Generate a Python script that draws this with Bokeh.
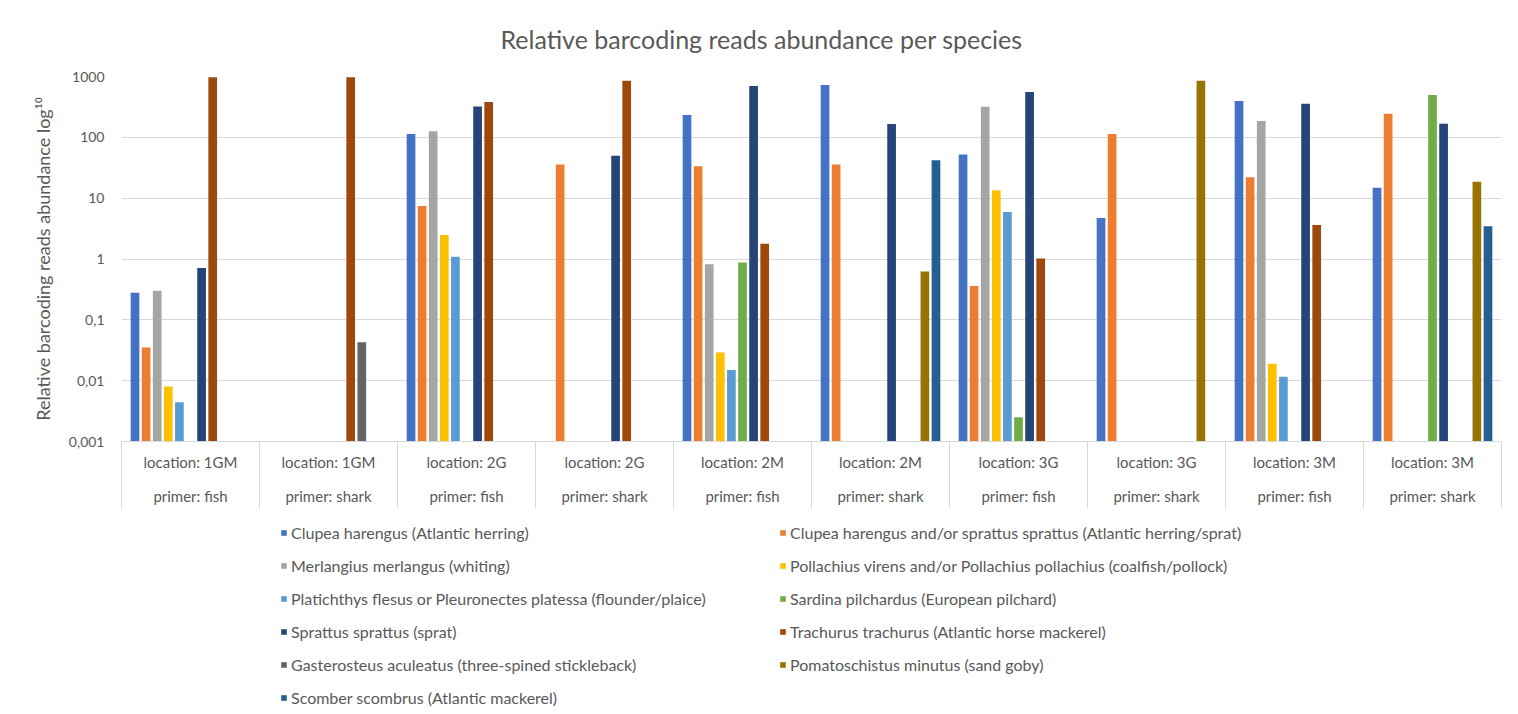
import numpy as np
from bokeh.plotting import figure
from bokeh.layouts import column
from bokeh.models import ColumnDataSource, Range1d, FixedTicker, Legend, LegendItem
from bokeh.transform import dodge
from bokeh.embed import file_html
from bokeh.resources import INLINE

# ---------------- data ----------------
LOCATIONS = ["1GM", "1GM", "2G", "2G", "2M", "2M", "3G", "3G", "3M", "3M"]
PRIMERS = ["fish", "shark", "fish", "shark", "fish", "shark", "fish", "shark", "fish", "shark"]

SPECIES = [
    "Clupea harengus (Atlantic herring)",
    "Clupea harengus and/or sprattus sprattus (Atlantic herring/sprat)",
    "Merlangius merlangus (whiting)",
    "Pollachius virens and/or Pollachius pollachius (coalfish/pollock)",
    "Platichthys flesus or Pleuronectes platessa (flounder/plaice)",
    "Sardina pilchardus (European pilchard)",
    "Sprattus sprattus (sprat)",
    "Trachurus trachurus (Atlantic horse mackerel)",
    "Gasterosteus aculeatus (three-spined stickleback)",
    "Pomatoschistus minutus (sand goby)",
    "Scomber scombrus (Atlantic mackerel)",
]

CLUPEA = [0.28, None, 113, None, 232, 724, 52, 4.7, 395, 14.9]
CLUPEA_SPRAT = [0.035, None, 7.4, 35.6, 33.5, 35.6, 0.36, 113, 22.1, 244]
MERLANGIUS = [0.30, None, 126, None, 0.82, None, 318, None, 185, None]
POLLACHIUS = [0.008, None, 2.48, None, 0.029, None, 13.5, None, 0.019, None]
PLATICHTHYS = [0.0044, None, 1.09, None, 0.015, None, 5.9, None, 0.0116, None]
SARDINA = [None, None, None, None, 0.88, None, 0.0025, None, None, 495]
SPRATTUS = [0.71, None, 322, 49.6, 697, 165, 555, None, 356, 167]
TRACHURUS = [970, 970, 380, 853, 1.78, None, 1.02, None, 3.62, None]
GASTEROSTEUS = [None, 0.043, None, None, None, None, None, None, None, None]
POMATOSCHISTUS = [None, None, None, None, None, 0.625, None, 853, None, 18.7]
SCOMBER = [None, None, None, None, None, 42, None, None, None, 3.44]

SERIES = [CLUPEA, CLUPEA_SPRAT, MERLANGIUS, POLLACHIUS, PLATICHTHYS, SARDINA,
          SPRATTUS, TRACHURUS, GASTEROSTEUS, POMATOSCHISTUS, SCOMBER]

COLORS = ["#4472C4", "#ED7D31", "#A5A5A5", "#FFC000", "#5B9BD5", "#70AD47",
          "#264478", "#9E480E", "#636363", "#997300", "#255E91"]

Y_TICKS = [0.001, 0.01, 0.1, 1.0, 10.0, 100.0, 1000.0]
Y_TICK_LABELS = ["0,001", "0,01", "0,1", "1", "10", "100", "1000"]

TITLE = "Relative barcoding reads abundance per species"
Y_LABEL = "Relative barcoding reads abundance log\u00b9\u2070"

# ---------------- style ----------------
FONT = "Lato"
TEXT = "#595959"
GRID = "#d9d9d9"
SLOT = 0.0804      # distance between bars inside a group (group width = 1)
BAR_W = 0.063
W = 1518
H_CHART = 523
H_LEGEND = 191

n_groups = len(LOCATIONS)
GROUP_POS = np.arange(n_groups) + 0.5

p = figure(width=W, height=H_CHART,
           x_range=Range1d(0, n_groups), y_range=Range1d(Y_TICKS[0], Y_TICKS[-1]),
           y_axis_type="log", output_backend="svg", toolbar_location=None,
           min_border_left=121, min_border_right=17, min_border_top=76, min_border_bottom=82)
p.outline_line_color = None
p.background_fill_color = "white"
p.border_fill_color = "white"

p.title.text = TITLE
p.title.align = "left"
p.title.offset = 379
p.title.vertical_align = "top"
p.title.standoff = 41
p.title.text_font = FONT
p.title.text_font_size = "25px"
p.title.text_font_style = "normal"
p.title.text_color = TEXT

for j, (vals, color) in enumerate(zip(SERIES, COLORS)):
    idx = [i for i, v in enumerate(vals) if v is not None]
    src = ColumnDataSource(dict(group=GROUP_POS[idx], top=[vals[i] for i in idx]))
    p.vbar(x=dodge("group", (j - (len(SPECIES) - 1) / 2) * SLOT, range=p.x_range),
           top="top", bottom=Y_TICKS[0], width=BAR_W, source=src,
           fill_color=color, line_color=None)

# x axis: category labels + separators
xa = p.xaxis[0]
xa.ticker = FixedTicker(ticks=list(GROUP_POS), minor_ticks=list(range(n_groups + 1)))
xa.major_label_overrides = {float(c): f"location: {l}\nprimer: {pr}"
                            for c, l, pr in zip(GROUP_POS, LOCATIONS, PRIMERS)}
xa.major_tick_line_color = None
xa.major_tick_in = 0
xa.major_tick_out = 0
xa.minor_tick_in = 0
xa.minor_tick_out = 67
xa.minor_tick_line_color = GRID
xa.axis_line_color = GRID
xa.major_label_standoff = -56
xa.major_label_text_font = FONT
xa.major_label_text_font_size = "15px"
xa.major_label_text_color = TEXT
xa.major_label_text_line_height = 1.93

# y axis
ya = p.yaxis[0]
ya.ticker = FixedTicker(ticks=Y_TICKS, minor_ticks=[])
ya.major_label_overrides = dict(zip(Y_TICKS, Y_TICK_LABELS))
ya.axis_line_color = None
ya.major_tick_line_color = None
ya.major_tick_out = 0
ya.major_tick_in = 0
ya.major_label_standoff = 17
ya.major_label_text_font = FONT
ya.major_label_text_font_size = "14px"
ya.major_label_text_color = TEXT
ya.axis_label = Y_LABEL
ya.axis_label_text_font = FONT
ya.axis_label_text_font_size = "18px"
ya.axis_label_text_font_style = "normal"
ya.axis_label_text_color = TEXT
ya.axis_label_standoff = 12

p.xgrid.visible = False
p.ygrid.grid_line_color = GRID
p.ygrid.grid_line_width = 1

# ---------------- legend strip (below the chart) ----------------
lg = figure(width=W, height=H_LEGEND, x_range=Range1d(0, 1), y_range=Range1d(0, 1),
            x_axis_type=None, y_axis_type=None, output_backend="svg", toolbar_location=None,
            min_border=0)
lg.outline_line_color = None
lg.grid.visible = False
lg.background_fill_color = "white"
lg.border_fill_color = "white"

items = []
for name, color in zip(SPECIES, COLORS):
    # swatch source: a single off-range bar, only used to draw the legend glyph
    r = lg.vbar(x=[-5], top=[-5], bottom=[-6], width=0.1, fill_color=color, line_color=None)
    items.append(LegendItem(label=name, renderers=[r]))

legend = Legend(items=items, orientation="horizontal", ncols=2, location=(159, H_LEGEND - 184),
                glyph_width=7, glyph_height=7, label_standoff=4, label_width=475,
                label_height=20, spacing=13, padding=0, margin=0,
                border_line_color=None, background_fill_alpha=0,
                label_text_font=FONT, label_text_font_size="16px", label_text_color=TEXT)
lg.add_layout(legend, "center")

open("out.html", "w").write(file_html(column(p, lg, spacing=0), INLINE))
